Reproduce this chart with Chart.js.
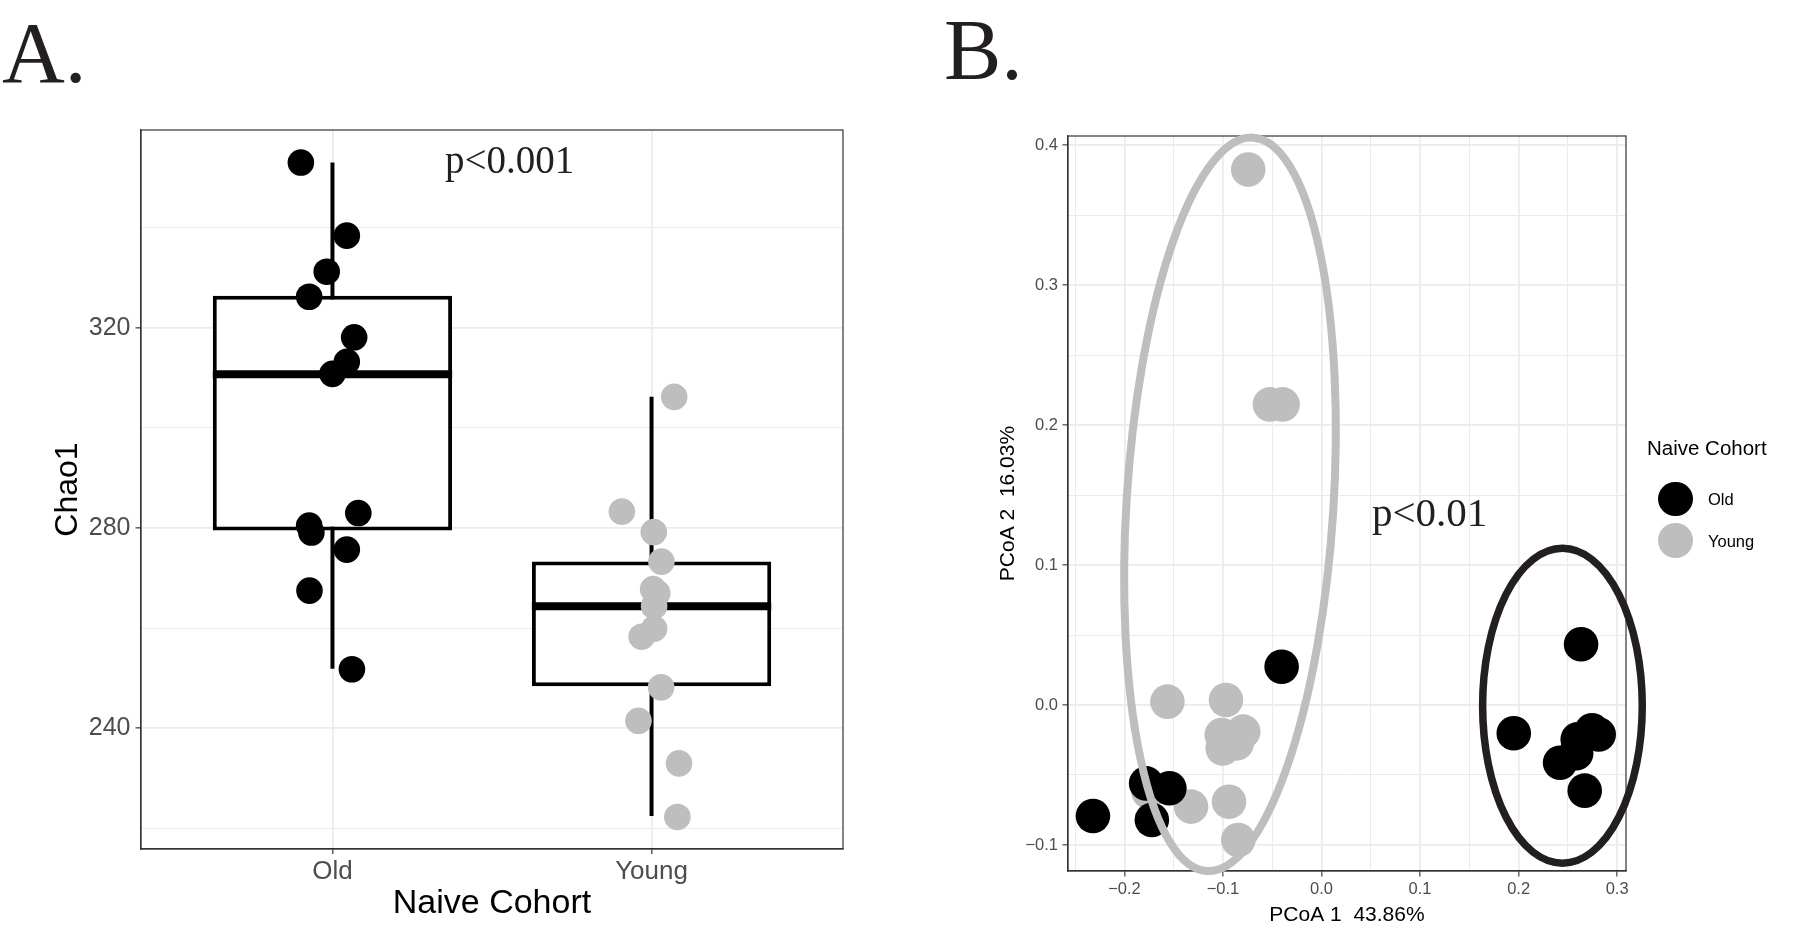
<!DOCTYPE html>
<html>
<head>
<meta charset="utf-8">
<script src="https://cdn.jsdelivr.net/npm/chart.js@4/dist/chart.umd.min.js"></script>
<style>
  html, body { margin: 0; padding: 0; background: #fff; }
  body { width: 1800px; height: 935px; position: relative; overflow: hidden; }
  canvas { position: absolute; top: 0; }
  #chartA { left: 0; }
  #chartB { left: 900px; }
  .lbl { position: absolute; line-height: 1; white-space: nowrap; }
  .serif { font-family: "Liberation Serif", "Times New Roman", serif; color: #231f20; }
  .sans { font-family: "Liberation Sans", Arial, Helvetica, sans-serif; color: #000; }
  .key { position: absolute; width: 34.6px; height: 34.6px; border-radius: 50%; }
</style>
</head>
<body>
<canvas id="chartA" width="900" height="935"></canvas>
<canvas id="chartB" width="900" height="935"></canvas>

<div class="lbl serif" style="left:2px; top:9px; font-size:87px;">A.</div>
<div class="lbl serif" style="left:944px; top:7px; font-size:86px;">B.</div>
<div class="lbl serif" style="left:445px; top:140px; font-size:39px;">p&lt;0.001</div>
<div class="lbl serif" style="left:1372px; top:492px; font-size:41px;">p&lt;0.01</div>
<div id="legend"></div>

<script>
// ---- Panel A: Chao1 by cohort ----
const cohorts = ['Old', 'Young'];
const oldChao1 = [353.0, 338.4, 331.2, 326.2, 318.1, 313.2, 310.8, 283.0, 280.5, 279.1, 275.7, 267.5, 251.8];
const oldJitter = [-0.099, 0.045, -0.018, -0.073, 0.068, 0.045, 0.0, 0.081, -0.073, -0.066, 0.045, -0.072, 0.061];
const youngChao1 = [306.2, 283.3, 279.2, 273.3, 267.8, 267.0, 264.4, 259.9, 258.3, 248.2, 241.5, 233.0, 222.3];
const youngJitter = [0.071, -0.093, 0.007, 0.031, 0.005, 0.018, 0.008, 0.008, -0.031, 0.030, -0.041, 0.086, 0.081];
// [lower whisker, q1, median, q3, upper whisker]
const oldBox = [251.9, 279.5, 310.7, 326.4, 353.0];
const youngBox = [222.5, 248.4, 264.4, 273.3, 306.2];
const chaoMajor = [240, 280, 320];
const chaoMinor = [220, 260, 300, 340];

// ---- Panel B: PCoA ----
const oldPC1 = [-0.0405, -0.232, -0.178, -0.1544, -0.1722, 0.2634, 0.1951, 0.260, 0.2745, 0.2813, 0.2584, 0.2421, 0.2671];
const oldPC2 = [0.0274, -0.0793, -0.056, -0.0595, -0.0821, 0.0434, -0.0202, -0.0245, -0.018, -0.021, -0.0345, -0.0412, -0.0612];
const youngPC1 = [-0.0744, -0.0524, -0.0395, -0.1564, -0.097, -0.1013, -0.0794, -0.1003, -0.0861, -0.1324, -0.0939, -0.0845, -0.1757];
const youngPC2 = [0.3826, 0.2148, 0.2148, 0.0024, 0.0036, -0.0214, -0.019, -0.031, -0.0274, -0.0726, -0.0691, -0.0964, -0.0619];
const pcMajorX = [-0.2, -0.1, 0, 0.1, 0.2, 0.3];
const pcMinorX = [-0.25, -0.15, -0.05, 0.05, 0.15, 0.25];
const pcMajorY = [-0.1, 0, 0.1, 0.2, 0.3, 0.4];
const pcMinorY = [-0.05, 0.05, 0.15, 0.25, 0.35];
// group ellipses: centre and two semi-axis vectors (PCoA units)
const ellipseGroups = ['Young', 'Old'];
const ellipseCentre = [[-0.0929, 0.1434], [0.2445, -0.0005]];
const ellipseAxisA = [[0.0236, 0.262], [0, 0.1125]];
const ellipseAxisB = [[0.1048, -0.0047], [0.081, 0]];

const cohortColors = ['#000000', '#bebebe'];
const ellipseColors = ['#bcbec0', '#231f20'];
const ellipseWidths = [8, 7.5];

Chart.defaults.font.family = '"Liberation Sans", Arial, Helvetica, sans-serif';

// ggplot-like panel border on all four sides
const panelBorder = {
    id: 'panelBorder',
    afterDraw(chart) {
        const {ctx, chartArea: a} = chart;
        ctx.save();
        ctx.strokeStyle = '#333333';
        ctx.lineWidth = 1.2;
        ctx.strokeRect(a.left, a.top, a.right - a.left, a.bottom - a.top);
        ctx.restore();
    }
};

const ellipsePlugin = {
    id: 'ellipses',
    afterDraw(chart) {
        const {ctx} = chart;
        const xs = chart.scales.x, ys = chart.scales.y;
        ellipseGroups.forEach((g, i) => {
            const [cx, cy] = ellipseCentre[i];
            const [ax, ay] = ellipseAxisA[i];
            const [bx, by] = ellipseAxisB[i];
            const px = xs.getPixelForValue(cx), py = ys.getPixelForValue(cy);
            const ux = xs.getPixelForValue(cx + ax) - px, uy = ys.getPixelForValue(cy + ay) - py;
            const vx = xs.getPixelForValue(cx + bx) - px, vy = ys.getPixelForValue(cy + by) - py;
            ctx.save();
            ctx.beginPath();
            ctx.transform(ux, uy, vx, vy, px, py);
            ctx.arc(0, 0, 1, 0, Math.PI * 2);
            ctx.restore();
            ctx.save();
            ctx.strokeStyle = ellipseColors[i];
            ctx.lineWidth = ellipseWidths[i];
            ctx.stroke();
            ctx.restore();
        });
    }
};

const fmtPc = v => v.toFixed(1).replace('-', '\u2212');
const majorTick = list => c => list.includes(c.tick.value) ? '#333333' : 'rgba(0,0,0,0)';
const gridWidth = list => c => list.includes(c.tick.value) ? 1.7 : 1.0;

// ---------- Chart A ----------
const boxStats = [oldBox, youngBox];
const boxWidth = 0.75;

new Chart(document.getElementById('chartA'), {
    type: 'scatter',
    data: {
        datasets: [
            {
                label: cohorts[0],
                data: oldChao1.map((v, i) => ({x: 1 + oldJitter[i], y: v})),
                backgroundColor: cohortColors[0],
                pointRadius: 13.3, pointBorderWidth: 0, order: 0
            },
            {
                label: cohorts[1],
                data: youngChao1.map((v, i) => ({x: 2 + youngJitter[i], y: v})),
                backgroundColor: cohortColors[1],
                pointRadius: 13.3, pointBorderWidth: 0, order: 0
            },
            ...boxStats.map((s, i) => ({
                type: 'line', showLine: true,
                data: [{x: i + 1 - boxWidth / 2, y: s[2]}, {x: i + 1 + boxWidth / 2, y: s[2]}],
                borderColor: '#000', borderWidth: 8, pointRadius: 0, order: 1
            })),
            {
                type: 'bar',
                data: boxStats.map((s, i) => ({x: i + 1, y: [s[1], s[3]]})),
                backgroundColor: '#ffffff', borderColor: '#000', borderWidth: 4,
                borderSkipped: false, categoryPercentage: 1, barPercentage: boxWidth, order: 2
            },
            ...boxStats.map((s, i) => ({
                type: 'line', showLine: true,
                data: [{x: i + 1, y: s[0]}, {x: i + 1, y: s[4]}],
                borderColor: '#000', borderWidth: 4, pointRadius: 0, order: 3
            }))
        ]
    },
    options: {
        responsive: false, animation: false, events: [],
        layout: {padding: {top: 130, right: 57, bottom: 0, left: 0}},
        plugins: {legend: {display: false}, tooltip: {enabled: false}},
        scales: {
            x: {
                type: 'linear', min: 0.4, max: 2.6, offset: false,
                afterBuildTicks: ax => { ax.ticks = [1, 2].map(v => ({value: v})); },
                afterFit: ax => { ax.height = 86; },
                ticks: {callback: v => cohorts[v - 1], color: '#4d4d4d', font: {size: 26, lineHeight: 1}, padding: 5, maxRotation: 0, autoSkip: false},
                grid: {offset: false, color: '#ebebeb', lineWidth: 1.7, tickColor: '#333333', tickLength: 5, tickWidth: 1.2},
                border: {color: '#333333', width: 1.2},
                title: {display: true, text: 'Naive Cohort', color: '#000', font: {size: 34}, padding: {top: 0, bottom: 11}}
            },
            y: {
                type: 'linear', min: 215.9, max: 359.5, beginAtZero: false,
                afterBuildTicks: ax => { ax.ticks = chaoMinor.concat(chaoMajor).sort((a, b) => a - b).map(v => ({value: v})); },
                afterFit: ax => { ax.width = 141; },
                ticks: {callback: v => chaoMajor.includes(v) ? String(v) : '', color: '#4d4d4d', font: {size: 25, lineHeight: 1}, padding: 5, autoSkip: false},
                grid: {color: '#ebebeb', lineWidth: gridWidth(chaoMajor), tickColor: majorTick(chaoMajor), tickLength: 5.5, tickWidth: 1.2},
                border: {color: '#333333', width: 1.2},
                title: {display: true, text: 'Chao1', color: '#000', font: {size: 32}, padding: {top: 49, bottom: 0}}
            }
        }
    },
    plugins: [panelBorder]
});

// ---------- Chart B ----------
new Chart(document.getElementById('chartB'), {
    type: 'scatter',
    data: {
        datasets: [
            {
                label: cohorts[0],
                data: oldPC1.map((v, i) => ({x: v, y: oldPC2[i]})),
                backgroundColor: cohortColors[0],
                pointRadius: 17.3, pointBorderWidth: 0, order: 0
            },
            {
                label: cohorts[1],
                data: youngPC1.map((v, i) => ({x: v, y: youngPC2[i]})),
                backgroundColor: cohortColors[1],
                pointRadius: 17.3, pointBorderWidth: 0, order: 1
            }
        ]
    },
    options: {
        responsive: false, animation: false, events: [],
        layout: {padding: {top: 136, right: 174, bottom: 0, left: 0}},
        plugins: {legend: {display: false}, tooltip: {enabled: false}},
        scales: {
            x: {
                type: 'linear', min: -0.2573, max: 0.309,
                afterBuildTicks: ax => { ax.ticks = pcMinorX.concat(pcMajorX).sort((a, b) => a - b).map(v => ({value: v})); },
                afterFit: ax => { ax.height = 64; },
                ticks: {callback: v => pcMajorX.includes(v) ? fmtPc(v) : '', color: '#4d4d4d', font: {size: 16.5, lineHeight: 1}, padding: 4.5, maxRotation: 0, autoSkip: false},
                grid: {color: '#ebebeb', lineWidth: gridWidth(pcMajorX), tickColor: majorTick(pcMajorX), tickLength: 5.5, tickWidth: 1.1},
                border: {color: '#333333', width: 1.2},
                title: {display: true, text: 'PCoA 1  43.86%', color: '#000', font: {size: 21}, padding: {top: 0, bottom: 7}}
            },
            y: {
                type: 'linear', min: -0.1186, max: 0.4066,
                afterBuildTicks: ax => { ax.ticks = pcMinorY.concat(pcMajorY).sort((a, b) => a - b).map(v => ({value: v})); },
                afterFit: ax => { ax.width = 168; },
                ticks: {callback: v => pcMajorY.includes(v) ? fmtPc(v) : '', color: '#4d4d4d', font: {size: 16.5, lineHeight: 1}, padding: 4.5, autoSkip: false},
                grid: {color: '#ebebeb', lineWidth: gridWidth(pcMajorY), tickColor: majorTick(pcMajorY), tickLength: 5.5, tickWidth: 1.1},
                border: {color: '#333333', width: 1.2},
                title: {display: true, text: 'PCoA 2  16.03%', color: '#000', font: {size: 21}, padding: {top: 96, bottom: 0}}
            }
        }
    },
    plugins: [panelBorder, ellipsePlugin]
});

// ---------- legend (panel B) ----------
const legend = document.getElementById('legend');
legend.innerHTML = '<div class="lbl sans" style="left:1647px; top:438px; font-size:20.5px;">Naive Cohort</div>';
const keyCentreY = [499, 540.5];
cohorts.forEach((name, i) => {
    const key = document.createElement('div');
    key.className = 'key';
    key.style.left = (1675.7 - 17.3) + 'px';
    key.style.top = (keyCentreY[i] - 17.3) + 'px';
    key.style.background = cohortColors[i];
    legend.appendChild(key);
    const txt = document.createElement('div');
    txt.className = 'lbl sans';
    txt.style.left = '1708px';
    txt.style.top = (keyCentreY[i] - 8) + 'px';
    txt.style.fontSize = '16.5px';
    txt.textContent = name;
    legend.appendChild(txt);
});
</script>
</body>
</html>
